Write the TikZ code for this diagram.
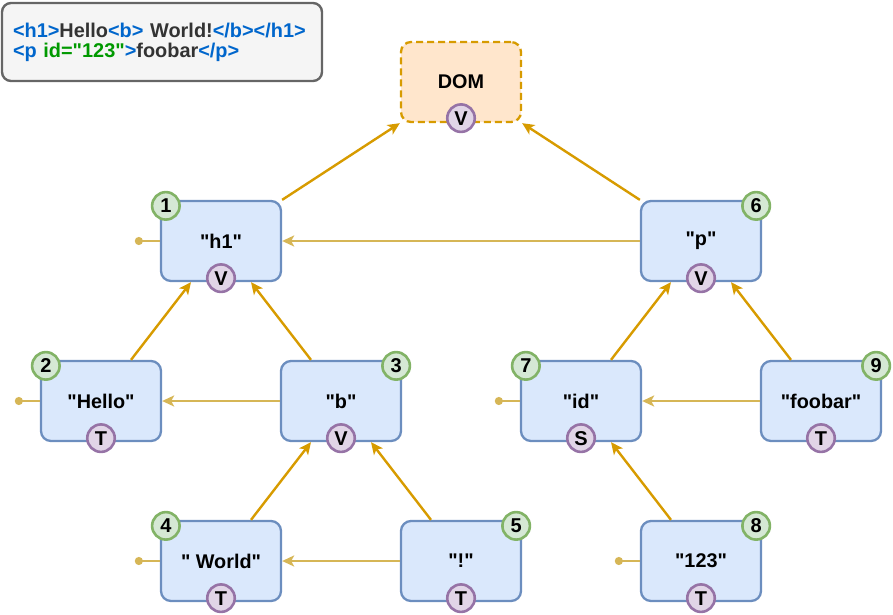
\documentclass[tikz,border=0pt]{standalone}
\usepackage{fontspec}
\setmainfont{Liberation Sans}[Ligatures=TeXOff]
\usepackage{xcolor, tikz}
\usetikzlibrary{calc,arrows.meta}

\definecolor{boxfill}{HTML}{DAE8FC}
\definecolor{boxline}{HTML}{6C8EBF}
\definecolor{numfill}{HTML}{D5E8D4}
\definecolor{numline}{HTML}{82B366}
\definecolor{kindfill}{HTML}{E1D5E7}
\definecolor{kindline}{HTML}{9673A6}
\definecolor{domfill}{HTML}{FFE6CC}
\definecolor{domline}{HTML}{D79B00}
\definecolor{sideline}{HTML}{D6B656}
\definecolor{srcfill}{HTML}{F5F5F5}
\definecolor{srcline}{HTML}{666666}
\definecolor{tagblue}{HTML}{0066CC}
\definecolor{attrgreen}{HTML}{009900}
\definecolor{plain}{HTML}{333333}

\tikzset{
	item/.style={draw=boxline, fill=boxfill, line width=2.3pt, rounded corners=10pt,
		minimum width=120pt, minimum height=80pt, inner sep=0pt,
		font=\bfseries\fontsize{19.8}{21}\selectfont},
	dom/.style={item, draw=domline, fill=domfill, dashed, dash pattern=on 7pt off 4pt},
	num/.style={circle, draw=numline, fill=numfill, line width=2.6pt, minimum size=27.5pt,
		inner sep=0pt, font=\bfseries\fontsize{20}{20}\selectfont},
	kind/.style={num, draw=kindline, fill=kindfill},
	up/.style={draw=domline, line width=2.4pt, -{Stealth[length=12pt, width=11pt, inset=3pt]}},
	side/.style={up, draw=sideline},
	stub/.style={draw=sideline, line width=2.4pt, {Circle[length=8pt]}-},
	srcbox/.style={draw=srcline, fill=srcfill, line width=2.4pt, rounded corners=9pt,
		text width=298pt, minimum height=78pt, inner xsep=11pt, align=left,
		font=\bfseries\fontsize{19.9}{20}\selectfont}
}

\begin{document}
\begin{tikzpicture}[x=1pt, y=-1pt]
		\useasboundingbox (0,0) rectangle (893,614);
		
		% Source text
		\node[srcbox] (src) at (162,42) {\textcolor{tagblue}{<h1>}\textcolor{plain}{Hello}\textcolor{tagblue}{<b>} \textcolor{plain}{World!}\textcolor{tagblue}{</b></h1>}\\
			\textcolor{tagblue}{<p} \textcolor{attrgreen}{id="123"}\textcolor{tagblue}{>}\textcolor{plain}{foobar}\textcolor{tagblue}{</p>}};
		
		% Root
		\node[dom] (dom) at (461,82) {DOM};
		\node[kind] (kdom) at ($(dom.south)+(0,-5)$) {V};
		
		% Tree nodes
		\node[item] (n1) at (221,241) {"h1"};
		\node[item] (n2) at (101,401) {"Hello"};
		\node[item] (n3) at (341,401) {"b"};
		\node[item] (n4) at (221,561) {" World"};
		\node[item] (n5) at (461,561) {"!"};
		\node[item] (n6) at (701,241) {"p"};
		\node[item] (n7) at (581,401) {"id"};
		\node[item] (n8) at (701,561) {"123"};
		\node[item] (n9) at (821,401) {"foobar"};
		
		% Kind badges
		\node[kind] (k1) at ($(n1.south)+(0,-4)$) {V};
		\node[kind] (k2) at ($(n2.south)+(0,-4)$) {T};
		\node[kind] (k3) at ($(n3.south)+(0,-4)$) {V};
		\node[kind] (k4) at ($(n4.south)+(0,-4)$) {T};
		\node[kind] (k5) at ($(n5.south)+(0,-4)$) {T};
		\node[kind] (k6) at ($(n6.south)+(0,-4)$) {V};
		\node[kind] (k7) at ($(n7.south)+(0,-4)$) {S};
		\node[kind] (k8) at ($(n8.south)+(0,-4)$) {T};
		\node[kind] (k9) at ($(n9.south)+(0,-4)$) {T};
		
		% Number badges
		\node[num] (m1) at ($(n1.north west)+(6,6)$) {1};
		\node[num] (m2) at ($(n2.north west)+(6,6)$) {2};
		\node[num] (m3) at ($(n3.north east)+(-6,6)$) {3};
		\node[num] (m4) at ($(n4.north west)+(6,6)$) {4};
		\node[num] (m5) at ($(n5.north east)+(-6,6)$) {5};
		\node[num] (m6) at ($(n6.north east)+(-6,6)$) {6};
		\node[num] (m7) at ($(n7.north west)+(6,6)$) {7};
		\node[num] (m8) at ($(n8.north east)+(-6,6)$) {8};
		\node[num] (m9) at ($(n9.north east)+(-6,6)$) {9};
		
		% Parent links
		\draw[up] (n1.north east) -- (dom.south west);
		\draw[up] (n6.north west) -- (dom.south east);
		\draw[up] ($(n2.north)+(30,0)$) -- ($(n1.south)+(-30,0)$);
		\draw[up] ($(n3.north)+(-30,0)$) -- ($(n1.south)+(30,0)$);
		\draw[up] ($(n4.north)+(30,0)$) -- ($(n3.south)+(-30,0)$);
		\draw[up] ($(n5.north)+(-30,0)$) -- ($(n3.south)+(30,0)$);
		\draw[up] ($(n7.north)+(30,0)$) -- ($(n6.south)+(-30,0)$);
		\draw[up] ($(n9.north)+(-30,0)$) -- ($(n6.south)+(30,0)$);
		\draw[up] ($(n8.north)+(-30,0)$) -- ($(n7.south)+(30,0)$);
		
		% Sibling links
		\draw[side] (n6.west) -- (n1.east);
		\draw[side] (n3.west) -- (n2.east);
		\draw[side] (n5.west) -- (n4.east);
		\draw[side] (n9.west) -- (n7.east);
		
		% Loose ends
		\coordinate (s1) at ($(n1.west)+(-25,0)$);
		\coordinate (s2) at ($(n2.west)+(-25,0)$);
		\coordinate (s4) at ($(n4.west)+(-25,0)$);
		\coordinate (s7) at ($(n7.west)+(-25,0)$);
		\coordinate (s8) at ($(n8.west)+(-25,0)$);
		\draw[stub] (s1) -- (n1.west);
		\draw[stub] (s2) -- (n2.west);
		\draw[stub] (s4) -- (n4.west);
		\draw[stub] (s7) -- (n7.west);
		\draw[stub] (s8) -- (n8.west);
	\end{tikzpicture}
\end{document}
